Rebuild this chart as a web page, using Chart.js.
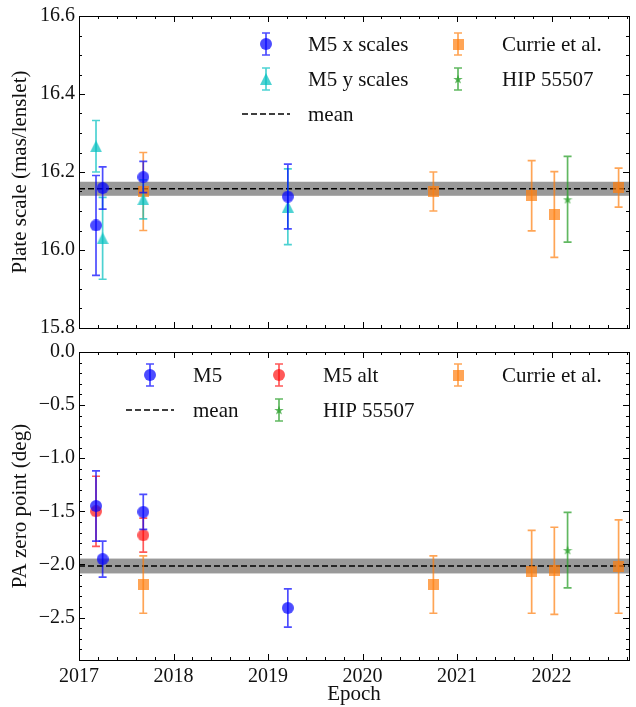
<!DOCTYPE html>
<html>
<head>
<meta charset="utf-8">
<script src="https://cdn.jsdelivr.net/npm/chart.js@4.4.1/dist/chart.umd.min.js"></script>
<style>
body{margin:0;background:#fff}
#wrap{position:relative;width:636px;height:707px}
#wrap canvas{position:absolute;left:0}
</style>
</head>
<body>
<div id="wrap">
<canvas id="ch-scale" width="636" height="346" style="top:0"></canvas>
<canvas id="ch-pa" width="636" height="371" style="top:336px"></canvas>
</div>
<script>
/* plate scale and PA zero point calibration vs epoch */
const FONT="'Liberation Serif','Times New Roman',serif";

const epochTicks=[2017,2018,2019,2020,2021,2022];
const scaleTicks=[15.8,16.0,16.2,16.4,16.6];
const paTicks=[0,-0.5,-1.0,-1.5,-2.0,-2.5];

// M5 field
const m5Epoch=[2017.18,2017.25,2017.68,2019.21];
const m5xScale=[16.063,16.159,16.187,16.137];
const m5xScaleErr=[0.128,0.054,0.040,0.083];
const m5yScale=[16.266,16.030,16.130,16.111];
const m5yScaleErr=[0.066,0.105,0.050,0.097];
const m5Pa=[-1.45,-1.95,-1.505,-2.41];
const m5PaErr=[0.33,0.17,0.165,0.18];
const m5AltEpoch=[2017.18,2017.68];
const m5AltPa=[-1.50,-1.725];
const m5AltPaErr=[0.33,0.16];

// Currie et al.
const currieEpoch=[2017.68,2020.75,2021.79,2022.03,2022.71];
const currieScale=[16.15,16.15,16.139,16.091,16.16];
const currieScaleErr=[0.10,0.05,0.09,0.11,0.05];
const curriePa=[-2.19,-2.19,-2.07,-2.06,-2.02];
const curriePaErr=[0.27,0.27,0.39,0.41,0.44];

// HIP 55507
const hipEpoch=[2022.17];
const hipScale=[16.13];
const hipScaleErr=[0.11];
const hipPa=[-1.865];
const hipPaErr=[0.355];

const scaleMean=16.157, scaleMeanErr=0.018;
const paMean=-2.015, paMeanErr=0.07;

const C_BLUE='rgba(0,0,255,0.7)';
const C_CYAN='rgba(0,191,191,0.7)';
const C_ORANGE='rgba(255,127,14,0.7)';
const C_GREEN='rgba(44,160,44,0.75)';
const C_RED='rgba(255,0,0,0.65)';

function marker(shape,color,size) {
    const c=document.createElement('canvas');
    c.width=c.height=size;
    const g=c.getContext('2d');
    const r=size/2;
    g.fillStyle=color;
    g.beginPath();
    if (shape==='circle') g.arc(r,r,r,0,Math.PI*2);
    else if (shape==='square') g.rect(0,0,size,size);
    else if (shape==='triangle') {g.moveTo(r,0);g.lineTo(size,size);g.lineTo(0,size);g.closePath();}
    else if (shape==='star') {
        for (let i=0;i<10;i++) {
            const a=-Math.PI/2+i*Math.PI/5, rr=i%2?r*0.4:r;
            const px=r+rr*Math.cos(a), py=r+rr*Math.sin(a)+r*0.1;
            i?g.lineTo(px,py):g.moveTo(px,py);
        }
        g.closePath();
    }
    g.fill();
    return c;
}

const MK={
    blue:marker('circle',C_BLUE,12),
    cyan:marker('triangle',C_CYAN,12),
    orange:marker('square',C_ORANGE,11),
    green:marker('star',C_GREEN,10),
    red:marker('circle',C_RED,12)
};

const pts=(xs,ys,es)=>xs.map((x,i)=>({x,y:ys[i],e:es[i]}));

function series(label,xs,ys,es,img,color) {
    return {label,data:pts(xs,ys,es),pointStyle:img,pointRadius:6,barColor:color,showLine:false};
}

const errorBars={
    id:'errorBars',
    beforeDatasetDraw(chart,args) {
        const ds=chart.data.datasets[args.index];
        const xs=chart.scales.x, ys=chart.scales.y, ctx=chart.ctx;
        ctx.save();
        ctx.strokeStyle=ds.barColor;
        ctx.lineWidth=1.7;
        ds.data.forEach(p=>{
            const px=xs.getPixelForValue(p.x);
            const t=ys.getPixelForValue(p.y+p.e), b=ys.getPixelForValue(p.y-p.e);
            ctx.beginPath();
            ctx.moveTo(px,t);ctx.lineTo(px,b);
            ctx.moveTo(px-4,t);ctx.lineTo(px+4,t);
            ctx.moveTo(px-4,b);ctx.lineTo(px+4,b);
            ctx.stroke();
        });
        ctx.restore();
    }
};

const meanBand={
    id:'meanBand',
    beforeDatasetsDraw(chart,args,opts) {
        const {ctx,chartArea:a,scales:{y}}=chart;
        const y1=y.getPixelForValue(opts.value+opts.err), y2=y.getPixelForValue(opts.value-opts.err);
        const ym=y.getPixelForValue(opts.value);
        ctx.save();
        ctx.fillStyle='rgba(128,128,128,0.8)';
        ctx.fillRect(a.left,y1,a.right-a.left,y2-y1);
        ctx.strokeStyle='#000';
        ctx.lineWidth=1.5;
        ctx.setLineDash([6,3]);
        ctx.beginPath();ctx.moveTo(a.left,ym);ctx.lineTo(a.right,ym);ctx.stroke();
        ctx.restore();
    }
};

function stepVals(min,max,step) {
    const out=[];
    const n=Math.round((max-min)/step);
    for (let i=0;i<=n+1;i++) {
        const v=min+i*step;
        if (v<=max+1e-9) out.push(v);
    }
    return out;
}

const frameTicks={
    id:'frameTicks',
    afterDraw(chart,args,opts) {
        const {ctx,chartArea:a,scales:{x,y}}=chart;
        ctx.save();
        ctx.strokeStyle='#000';
        ctx.lineWidth=1;
        ctx.beginPath();
        const xt=(v,len)=>{const p=Math.round(x.getPixelForValue(v))+0.5;ctx.moveTo(p,a.top);ctx.lineTo(p,a.top+len);ctx.moveTo(p,a.bottom);ctx.lineTo(p,a.bottom-len);};
        const yt=(v,len)=>{const p=Math.round(y.getPixelForValue(v))+0.5;ctx.moveTo(a.left,p);ctx.lineTo(a.left+len,p);ctx.moveTo(a.right,p);ctx.lineTo(a.right-len,p);};
        stepVals(x.min,x.max,opts.xMinor).forEach(v=>xt(v,3));
        stepVals(y.min,y.max,opts.yMinor).forEach(v=>yt(v,3));
        x.ticks.forEach(t=>xt(t.value,6));
        y.ticks.forEach(t=>yt(t.value,6));
        ctx.stroke();
        ctx.strokeRect(Math.round(a.left)+0.5,Math.round(a.top)+0.5,Math.round(a.right-a.left),Math.round(a.bottom-a.top));
        ctx.restore();
    }
};

const keyBox={
    id:'keyBox',
    afterDraw(chart,args,opts) {
        const ctx=chart.ctx;
        ctx.save();
        ctx.font=`21px ${FONT}`;
        ctx.fillStyle='#111';
        ctx.textBaseline='middle';
        opts.items.forEach(it=>{
            if (it.dash) {
                ctx.strokeStyle='#000';ctx.lineWidth=1.5;ctx.setLineDash([6,3]);
                ctx.beginPath();ctx.moveTo(it.mx-24,it.y);ctx.lineTo(it.mx+24,it.y);ctx.stroke();
                ctx.setLineDash([]);
            } else {
                ctx.strokeStyle=it.color;ctx.lineWidth=1.7;
                ctx.beginPath();
                ctx.moveTo(it.mx,it.y-11);ctx.lineTo(it.mx,it.y+11);
                ctx.moveTo(it.mx-4,it.y-11);ctx.lineTo(it.mx+4,it.y-11);
                ctx.moveTo(it.mx-4,it.y+11);ctx.lineTo(it.mx+4,it.y+11);
                ctx.stroke();
                ctx.drawImage(it.img,it.mx-it.img.width/2,it.y-it.img.height/2);
            }
            ctx.fillText(it.text,it.tx,it.y+1);
        });
        ctx.restore();
    }
};

Chart.defaults.color='#111';
Chart.defaults.font.family=FONT;

const fmtMinus=v=>(v<0?'\u2212':'')+Math.abs(v).toFixed(1);

function xAxis(show) {
    const ax={
        type:'linear',min:2017,max:2022.82,display:show,
        grid:{display:false,drawTicks:false},border:{display:false},
        afterBuildTicks:s=>{s.ticks=epochTicks.map(v=>({value:v}));},
        ticks:{font:{size:20},padding:5,maxRotation:0,callback:v=>String(v)},
        title:{display:show,text:'Epoch',font:{size:21},padding:{top:0,bottom:0}}
    };
    if (show) ax.afterFit=s=>{s.height=47;};
    return ax;
}

function yAxis(min,max,ticks,title,fmt) {
    return {
        type:'linear',min,max,
        grid:{display:false,drawTicks:false},border:{display:false},
        afterBuildTicks:s=>{s.ticks=ticks.map(v=>({value:v}));},
        afterFit:s=>{s.width=79;},
        ticks:{font:{size:20},padding:4,callback:fmt},
        title:{display:true,text:title,font:{size:21},padding:{top:8,bottom:0}}
    };
}

const base={
    responsive:false,
    animation:false,
    plugins:{legend:{display:false},tooltip:{enabled:false}}
};

new Chart(document.getElementById('ch-scale'),{
    type:'scatter',
    data:{datasets:[
        series('M5 x scales',m5Epoch,m5xScale,m5xScaleErr,MK.blue,C_BLUE),
        series('M5 y scales',m5Epoch,m5yScale,m5yScaleErr,MK.cyan,C_CYAN),
        series('Currie et al.',currieEpoch,currieScale,currieScaleErr,MK.orange,C_ORANGE),
        series('HIP 55507',hipEpoch,hipScale,hipScaleErr,MK.green,C_GREEN)
    ]},
    options:{
        ...base,
        layout:{padding:{top:12,bottom:18,left:0,right:6}},
        scales:{
            x:xAxis(false),
            y:yAxis(15.8,16.6,scaleTicks,'Plate scale (mas/lenslet)',v=>v.toFixed(1))
        },
        plugins:{
            ...base.plugins,
            meanBand:{value:scaleMean,err:scaleMeanErr},
            frameTicks:{xMinor:0.2,yMinor:0.05},
            keyBox:{items:[
                {img:MK.blue,color:C_BLUE,text:'M5 x scales',mx:266,tx:308,y:44},
                {img:MK.cyan,color:C_CYAN,text:'M5 y scales',mx:266,tx:308,y:79},
                {dash:true,text:'mean',mx:266,tx:308,y:114},
                {img:MK.orange,color:C_ORANGE,text:'Currie et al.',mx:458,tx:502,y:44},
                {img:MK.green,color:C_GREEN,text:'HIP 55507',mx:458,tx:502,y:79}
            ]}
        }
    },
    plugins:[meanBand,errorBars,frameTicks,keyBox]
});

new Chart(document.getElementById('ch-pa'),{
    type:'scatter',
    data:{datasets:[
        series('M5',m5Epoch,m5Pa,m5PaErr,MK.blue,C_BLUE),
        series('M5 alt',m5AltEpoch,m5AltPa,m5AltPaErr,MK.red,C_RED),
        series('Currie et al.',currieEpoch,curriePa,curriePaErr,MK.orange,C_ORANGE),
        series('HIP 55507',hipEpoch,hipPa,hipPaErr,MK.green,C_GREEN)
    ]},
    options:{
        ...base,
        layout:{padding:{top:8,bottom:0,left:0,right:6}},
        scales:{
            x:xAxis(true),
            y:yAxis(-2.9,0,paTicks,'PA zero point (deg)',fmtMinus)
        },
        plugins:{
            ...base.plugins,
            meanBand:{value:paMean,err:paMeanErr},
            frameTicks:{xMinor:0.2,yMinor:0.1},
            keyBox:{items:[
                {img:MK.blue,color:C_BLUE,text:'M5',mx:150,tx:193,y:39},
                {dash:true,text:'mean',mx:150,tx:193,y:74},
                {img:MK.red,color:C_RED,text:'M5 alt',mx:279,tx:323,y:39},
                {img:MK.green,color:C_GREEN,text:'HIP 55507',mx:279,tx:323,y:74},
                {img:MK.orange,color:C_ORANGE,text:'Currie et al.',mx:458,tx:502,y:39}
            ]}
        }
    },
    plugins:[meanBand,errorBars,frameTicks,keyBox]
});
</script>
</body>
</html>
